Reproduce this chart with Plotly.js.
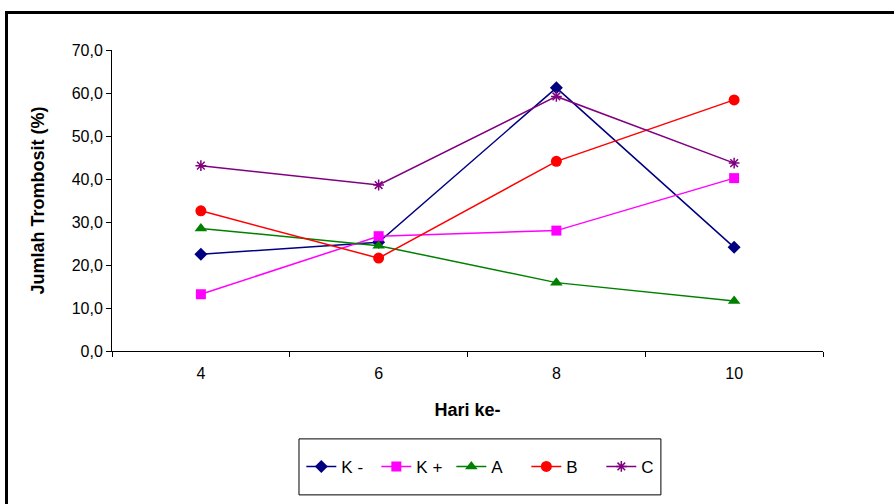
<!DOCTYPE html>
<html>
<head>
<meta charset="utf-8">
<script src="https://cdn.plot.ly/plotly-3.0.1.min.js"></script>
<style>
html,body{margin:0;padding:0;background:#fff;}
#frame{position:absolute;left:5px;top:11px;width:900px;height:500px;border-left:3px solid #000;border-top:3px solid #000;pointer-events:none;z-index:5;}
#chart{position:absolute;left:0;top:0;width:894px;height:504px;}
</style>
</head>
<body>
<div id="chart"></div>
<div id="frame"></div>
<script>
var days = ['4', '6', '8', '10'];
var seriesNames = ['K -', 'K +', 'A', 'B', 'C'];
var kMinus = [22.5, 25.3, 61.2, 24.1];
var kPlus = [13.2, 26.7, 28.0, 40.2];
var seriesA = [28.5, 24.5, 15.9, 11.6];
var seriesB = [32.6, 21.6, 44.1, 58.4];
var seriesC = [43.1, 38.6, 59.2, 43.7];
var yTickVals = [0, 10, 20, 30, 40, 50, 60, 70];

var values = [kMinus, kPlus, seriesA, seriesB, seriesC];
var colors = ['#000080', '#FF00FF', '#008000', '#FF0000', '#800080'];
var symbols = ['diamond', 'square', 'triangle-up', 'circle', 'asterisk-open'];
var sizes = [10, 10, 11, 11, 9];

var traces = values.map(function (v, i) {
  return {
    x: days, y: v, name: seriesNames[i], type: 'scatter', mode: 'lines+markers',
    line: {color: colors[i], width: 1.5},
    marker: {symbol: symbols[i], size: sizes[i], color: colors[i], line: {color: colors[i], width: i === 4 ? 1.5 : 0}}
  };
});

var layout = {
  width: 894, height: 504,
  margin: {l: 112, r: 71, t: 50, b: 153},
  paper_bgcolor: '#fff', plot_bgcolor: '#fff',
  separators: ',.',
  font: {family: 'Liberation Sans, Arial, sans-serif', size: 16, color: '#000'},
  showlegend: true,
  legend: {
    orientation: 'h', x: 0.53, xanchor: 'center', y: -0.385, yanchor: 'middle',
    bgcolor: 'rgba(0,0,0,0)', borderwidth: 0, font: {size: 17, color: '#000'},
    entrywidth: 30, entrywidthmode: 'pixels',
    itemclick: false, traceorder: 'normal'
  },
  shapes: [{
    type: 'rect', xref: 'paper', yref: 'paper',
    x0: 0.263, x1: 0.772, y0: -0.292, y1: -0.478,
    line: {color: '#000', width: 1}, fillcolor: 'rgba(0,0,0,0)'
  }],
  xaxis: {
    type: 'category', range: [-0.5, 3.5], tickson: 'boundaries',
    showline: true, linecolor: '#000', linewidth: 1, ticks: 'outside', ticklen: 5, tickcolor: '#000',
    ticklabelstandoff: 8,
    showgrid: false, zeroline: false, fixedrange: true,
    title: {text: '<b>Hari ke-</b>', font: {size: 18}, standoff: 22}
  },
  yaxis: {
    range: [0, 70], tickvals: yTickVals, tickformat: '.1f',
    showline: true, linecolor: '#000', linewidth: 1, ticks: 'outside', ticklen: 5, tickcolor: '#000',
    showgrid: false, zeroline: false, fixedrange: true,
    title: {text: '<b>Jumlah Trombosit (%)</b>', font: {size: 18}, standoff: 22}
  }
};

Plotly.newPlot('chart', traces, layout, {displayModeBar: false, staticPlot: true});
</script>
</body>
</html>
